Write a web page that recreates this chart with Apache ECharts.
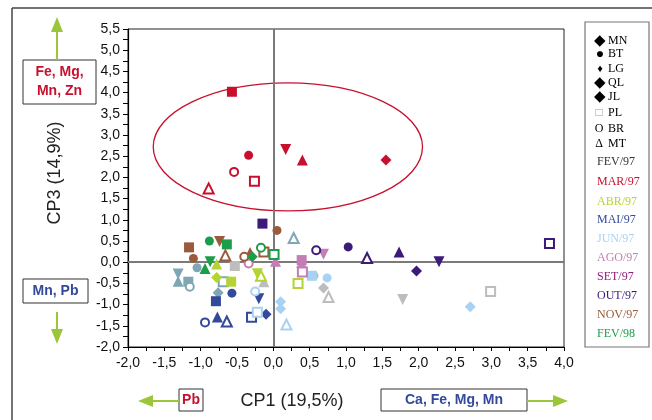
<!DOCTYPE html>
<html><head><meta charset="utf-8">
<script src="https://cdn.jsdelivr.net/npm/echarts@6/dist/echarts.min.js"></script>
<style>html,body{margin:0;padding:0;background:#fff}#c{width:652px;height:420px}</style>
</head><body><div id="c"></div>
<script>
// Station codes and their marker shapes
var stations = ['MN','BT','LG','QL','JL','PL','BR','MT'];
var stationSymbols = ['rect','circle','diamond','triangle','invTriangle','emptyRect','emptyCircle','emptyTriangle'];

// Months (legend) and colours
var months = ['FEV/97','MAR/97','ABR/97','MAI/97','JUN/97','AGO/97','SET/97','OUT/97','NOV/97','FEV/98'];
var monthColors = ['#333333','#c8102e','#b5d334','#33499c','#a8d2f4','#c47eb4','#8e1c7f','#3b1a7a','#9b5a3c','#1a9e4a'];

// Points: [CP1, CP3, station index]
var ptsMAR = [[-0.57,4.02,0],[-0.34,2.52,1],[1.55,2.41,2],[0.40,2.41,3],[0.17,2.66,4],[-0.26,1.91,5],[-0.54,2.13,6],[-0.89,1.74,7]];
var ptsABR = [[-0.58,-0.46,0],[-0.78,-0.36,2],[-0.78,-0.04,3],[-0.22,-0.27,4],[0.34,-0.50,5],[-0.17,-0.32,7]];
var ptsMAI = [[-0.79,-0.92,0],[-0.57,-0.73,1],[-0.10,-1.23,2],[-0.77,-1.29,3],[-0.20,-0.86,4],[-0.30,-1.30,5],[-0.94,-1.42,6],[-0.64,-1.40,7]];
var ptsJUN = [[0.53,-0.32,0],[0.74,-0.37,1],[2.71,-1.05,2],[0.10,-0.93,2],[0.10,-1.10,2],[-0.22,-1.18,5],[-0.25,-0.69,6],[0.18,-1.47,7]];
var ptsAGO = [[0.39,0.05,0],[0.39,-0.12,2],[0.03,0.02,3],[0.69,0.19,4],[0.40,-0.23,5],[-0.34,-0.03,6]];
var ptsOUT = [[-0.15,0.91,0],[1.03,0.36,1],[1.97,-0.21,2],[1.73,0.24,3],[2.28,0.01,4],[3.80,0.44,5],[0.59,0.28,6],[1.29,0.10,7]];
var ptsNOV = [[-1.16,0.35,0],[0.05,0.75,1],[-1.10,0.09,1],[-0.32,0.23,3],[-0.74,0.49,4],[-0.13,0.24,5],[-0.40,0.13,6],[-0.66,0.16,7]];
var ptsFEV98 = [[-0.64,0.42,0],[-0.88,0.50,1],[-0.29,0.13,2],[-0.94,-0.15,3],[-0.87,0.01,4],[0.01,0.18,5],[-0.17,0.34,6]];
var ptsGray = [[-0.53,-0.09,0],[0.56,-0.32,1],[0.69,-0.61,2],[-0.13,-0.46,3],[1.78,-0.88,4],[2.99,-0.69,5],[0.76,-0.82,7]];
var ptsTeal = [[-1.17,-0.46,0],[-1.05,-0.13,1],[-0.76,-0.72,2],[-1.31,-0.45,3],[-1.31,-0.28,4],[-0.69,-0.46,5],[-1.15,-0.58,6],[0.28,0.57,7]];

// Ellipse around the MAR/97 group: [centre CP1, centre CP3, radius CP1, radius CP3]
var ellipseMAR = [0.20, 2.72, 1.853, 1.51];

var xTicks = {min:-2, max:4, step:0.25};
var yTicks = {min:-2, max:5.5, step:0.25};

var symSize = {rect:10, circle:9, diamond:11, triangle:11, invTriangle:11, emptyRect:9, emptyCircle:8, emptyTriangle:10};

function mkSeries(pts, color){
  return {
    type:'scatter', z:5,
    data: pts.map(function(p){
      var s = stationSymbols[p[2]];
      var o = {value:[p[0],p[1]], symbol: s==='invTriangle'?'triangle':s, symbolSize: symSize[s]};
      if (s==='invTriangle') o.symbolRotate = 180;
      if (s.indexOf('empty')===0) o.itemStyle = {color:color, borderColor:color, borderWidth:1.3};
      return o;
    }),
    itemStyle:{color:color, opacity:1},
    emphasis:{disabled:true}
  };
}

function fmt(v){
  var r = Math.round(v*2)/2;
  if (Math.abs(r-v)>1e-6) return '';
  return r.toFixed(1).replace('.',',');
}

var chart = echarts.init(document.getElementById('c'), null, {renderer:'canvas'});
var green = '#9cc63a';
var G = [];
// outer frame
G.push({type:'line', shape:{x1:12,y1:8,x2:652,y2:8}, style:{stroke:'#444',lineWidth:1.5}});
G.push({type:'line', shape:{x1:12,y1:8,x2:12,y2:420}, style:{stroke:'#444',lineWidth:1.5}});
// legend box
G.push({type:'rect', shape:{x:585,y:22,width:64,height:325}, style:{fill:'#fff',stroke:'#777',lineWidth:1.2}});
var stGlyph = ['\u25C6','\u25CF','\u2666','\u25C6','\u25C6','\u25A1','O','\u0394'];
var stGlyphSize = [15,14,11,15,15,12,12,12];
var stY = [41,54,69,83,97,113,129,144];
for (var i=0;i<stations.length;i++){
  G.push({type:'text', x:(i>=5?599:600), y:stY[i], style:{text:stGlyph[i], fill:(i===5?'#999':'#000'), font:stGlyphSize[i]+'px "Liberation Serif", serif', align:'center', verticalAlign:'middle'}});
  G.push({type:'text', x:608, y:stY[i], style:{text:stations[i], fill:'#000', font:'12px "Liberation Serif", serif', align:'left', verticalAlign:'middle'}});
}
var mY = [162,182,202,220,239,258,277,296,315,334];
for (var j=0;j<months.length;j++){
  G.push({type:'text', x:597, y:mY[j], style:{text:months[j], fill:monthColors[j], font:'12px "Liberation Serif", serif', align:'left', verticalAlign:'middle'}});
}
// left annotations
G.push({type:'rect', shape:{x:23,y:60,width:73,height:44}, style:{fill:'#fff',stroke:'#333',lineWidth:1}});
G.push({type:'text', x:59.5, y:72, style:{text:'Fe, Mg,', fill:'#c8102e', font:'bold 14px "Liberation Sans", Arial, sans-serif', align:'center', verticalAlign:'middle'}});
G.push({type:'text', x:59.5, y:91, style:{text:'Mn, Zn', fill:'#c8102e', font:'bold 14px "Liberation Sans", Arial, sans-serif', align:'center', verticalAlign:'middle'}});
G.push({type:'line', shape:{x1:57,y1:60,x2:57,y2:30}, style:{stroke:green,lineWidth:2}});
G.push({type:'polygon', shape:{points:[[57,17],[51,32],[63,32]]}, style:{fill:green}});
G.push({type:'rect', shape:{x:23,y:279,width:65,height:24}, style:{fill:'#fff',stroke:'#333',lineWidth:1}});
G.push({type:'text', x:55.5, y:291, style:{text:'Mn, Pb', fill:'#33499c', font:'bold 14px "Liberation Sans", Arial, sans-serif', align:'center', verticalAlign:'middle'}});
G.push({type:'line', shape:{x1:57,y1:312,x2:57,y2:331}, style:{stroke:green,lineWidth:2}});
G.push({type:'polygon', shape:{points:[[57,344],[51,329],[63,329]]}, style:{fill:green}});
G.push({type:'text', x:55, y:173, rotation:Math.PI/2, style:{text:'CP3 (14,9%)', fill:'#222', font:'18px "Liberation Sans", Arial, sans-serif', align:'center', verticalAlign:'middle'}});
// bottom annotations
G.push({type:'rect', shape:{x:179,y:389,width:24,height:22}, style:{fill:'#fff',stroke:'#333',lineWidth:1}});
G.push({type:'text', x:191, y:400, style:{text:'Pb', fill:'#c8102e', font:'bold 14px "Liberation Sans", Arial, sans-serif', align:'center', verticalAlign:'middle'}});
G.push({type:'line', shape:{x1:179,y1:401,x2:150,y2:401}, style:{stroke:green,lineWidth:2}});
G.push({type:'polygon', shape:{points:[[138,401],[153,395],[153,407]]}, style:{fill:green}});
G.push({type:'text', x:292, y:401, style:{text:'CP1 (19,5%)', fill:'#222', font:'18px "Liberation Sans", Arial, sans-serif', align:'center', verticalAlign:'middle'}});
G.push({type:'rect', shape:{x:381,y:389,width:146,height:22}, style:{fill:'#fff',stroke:'#333',lineWidth:1}});
G.push({type:'text', x:454, y:400, style:{text:'Ca, Fe, Mg, Mn', fill:'#33499c', font:'bold 14px "Liberation Sans", Arial, sans-serif', align:'center', verticalAlign:'middle'}});
G.push({type:'line', shape:{x1:527,y1:401,x2:556,y2:401}, style:{stroke:green,lineWidth:2}});
G.push({type:'polygon', shape:{points:[[568,401],[553,395],[553,407]]}, style:{fill:green}});

var series = [
  {type:'scatter', data:[], z:1, silent:true,
   markLine:{silent:true, symbol:'none', label:{show:false}, lineStyle:{color:'#7a7a7a', width:2, type:'solid'},
     data:[{xAxis:0},{yAxis:0}]}},
  {type:'custom', z:2, silent:true, data:[ellipseMAR],
   renderItem:function(params, api){
     var c = api.coord([api.value(0), api.value(1)]);
     var s = api.size([api.value(2), api.value(3)]);
     return {type:'ellipse', shape:{cx:c[0], cy:c[1], rx:s[0], ry:s[1]}, style:{fill:'none', stroke:'#c8102e', lineWidth:1.3}};
   }},
  mkSeries(ptsGray,'#bdbdbd'),
  mkSeries(ptsTeal,'#7ea6b4'),
  mkSeries(ptsMAR,'#c8102e'),
  mkSeries(ptsABR,'#b5d334'),
  mkSeries(ptsMAI,'#33499c'),
  mkSeries(ptsJUN,'#a8d2f4'),
  mkSeries(ptsAGO,'#c47eb4'),
  mkSeries(ptsOUT,'#3b1a7a'),
  mkSeries(ptsNOV,'#9b5a3c'),
  mkSeries(ptsFEV98,'#1a9e4a')
];

chart.setOption({
  animation:false,
  backgroundColor:'#fff',
  grid:{left:128, right:88, top:29, bottom:73, show:true, borderColor:'#222', borderWidth:1, backgroundColor:'transparent'},
  xAxis:{type:'value', min:xTicks.min, max:xTicks.max, interval:xTicks.step,
    axisLine:{show:true, onZero:false, lineStyle:{color:'#000', width:1.2}},
    axisTick:{show:true, length:4, inside:false, lineStyle:{color:'#000'}},
    splitLine:{show:false},
    axisLabel:{formatter:fmt, color:'#111', fontSize:14, fontFamily:'"Liberation Sans", Arial, sans-serif', margin:9, showMinLabel:true, showMaxLabel:true}},
  yAxis:{type:'value', min:yTicks.min, max:yTicks.max, interval:yTicks.step,
    axisLine:{show:true, onZero:false, lineStyle:{color:'#000', width:1.2}},
    axisTick:{show:true, length:5, inside:false, lineStyle:{color:'#000'}},
    splitLine:{show:false},
    axisLabel:{formatter:fmt, color:'#111', fontSize:14, fontFamily:'"Liberation Sans", Arial, sans-serif', margin:8, showMinLabel:true, showMaxLabel:true}},
  graphic:G,
  series:series
});
</script></body></html>
